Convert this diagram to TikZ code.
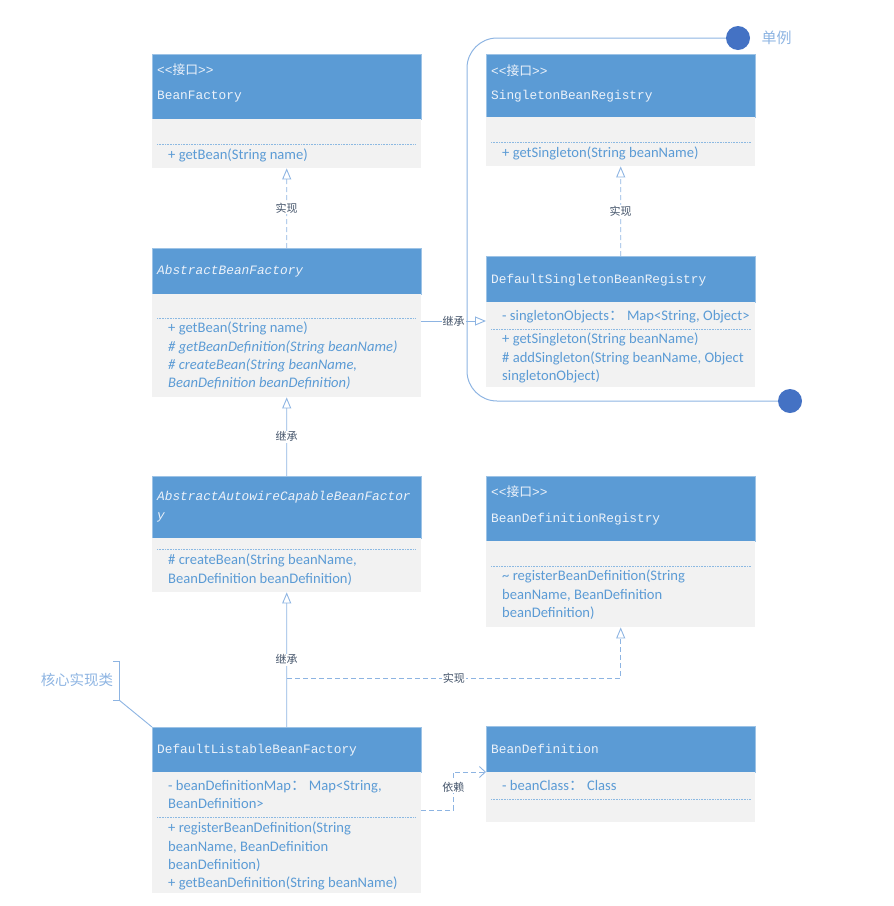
\documentclass[tikz,border=0pt]{standalone}
\usepackage{fontspec}
\setmainfont{Carlito}
\newfontfamily\hdfont{Liberation Mono}
\newfontfamily\cjk{Noto Sans CJK SC}
\usetikzlibrary{arrows.meta}
\definecolor{headblue}{RGB}{91,155,213}
\definecolor{bodygray}{RGB}{242,242,242}
\definecolor{headtext}{RGB}{236,242,250}
\definecolor{memblue}{RGB}{91,155,213}
\definecolor{linecol}{RGB}{141,180,226}
\definecolor{lblgray}{RGB}{68,84,106}
\definecolor{dotblue}{RGB}{68,114,196}
\begin{document}
\begin{tikzpicture}[x=1pt,y=-1pt,
    head/.style={anchor=north west,fill=headblue,draw=headblue!60!white,line width=0.5pt,minimum width=269pt,inner sep=0pt},
    body/.style={anchor=north west,fill=bodygray,minimum width=269pt,inner sep=0pt},
    hdtext/.style={anchor=west,text=headtext,font=\hdfont\fontsize{12.8}{15}\selectfont,inner sep=0pt},
    mem/.style={anchor=north west,align=left,text=memblue,font=\fontsize{14.6}{18.3}\selectfont,inner sep=0pt},
    divline/.style={memblue!70,densely dotted,line width=0.6pt},
    lbl/.style={fill=white,text=lblgray,font=\cjk\fontsize{11}{12}\selectfont,inner sep=1pt},
    impl/.style={linecol,line width=0.9pt,dash pattern=on 5pt off 3pt,-{Triangle[open,length=11pt,width=9pt]}},
    inh/.style={linecol,line width=0.9pt,-{Triangle[open,length=11pt,width=9pt]}},
    dep/.style={linecol,line width=0.9pt,dash pattern=on 5pt off 3pt,-{Straight Barb[length=6pt,width=11pt]}}]
    \useasboundingbox (0,0) rectangle (894,906);
    % left column
    \node[head,minimum height=65pt] (bf) at (152,54) {};
    \node[body,minimum height=49pt] (bfb) at (152,119) {};
    \node[hdtext] (bft1) at (157,70) {<<{\cjk 接口}>>};
    \node[hdtext] (bft2) at (157,97) {BeanFactory};
    \draw[divline] (157,144) -- (416,144);
    \node[mem] (bfm) at (168,149) {+ getBean(String name)};

    \node[head,minimum height=46pt] (abf) at (152,248) {};
    \node[body,minimum height=103pt] (abfb) at (152,294) {};
    \node[hdtext] (abft) at (157,271) {\itshape AbstractBeanFactory};
    \draw[divline] (157,318) -- (416,318);
    \node[mem] (abfm) at (168,322) {+ getBean(String name)\\
        \textit{\# getBeanDefinition(String beanName)}\\
        \textit{\# createBean(String beanName,}\\
        \textit{BeanDefinition beanDefinition)}};

    \node[head,minimum height=62pt] (aacbf) at (152,476) {};
    \node[body,minimum height=54pt] (aacbfb) at (152,538) {};
    \node[hdtext] (aacbft1) at (157,497) {\itshape AbstractAutowireCapableBeanFactor};
    \node[hdtext] (aacbft2) at (157,517) {\itshape y};
    \draw[divline] (157,549) -- (416,549);
    \node[mem] (aacbfm) at (168,554) {\# createBean(String beanName,\\ BeanDefinition beanDefinition)};

    \node[head,minimum height=45pt] (dlbf) at (152,727) {};
    \node[body,minimum height=121pt] (dlbfb) at (152,772) {};
    \node[hdtext] (dlbft) at (157,750) {DefaultListableBeanFactory};
    \node[mem] (dlbfa) at (168,780) {- beanDefinitionMap{\cjk ：}\ Map<String,\\ BeanDefinition>};
    \draw[divline] (157,817) -- (416,817);
    \node[mem] (dlbfm) at (168,822) {+ registerBeanDefinition(String\\ beanName, BeanDefinition\\
        beanDefinition)\\ + getBeanDefinition(String beanName)};

    % right column
    \node[head,minimum height=63pt] (sbr) at (486,54) {};
    \node[body,minimum height=49pt] (sbrb) at (486,117) {};
    \node[hdtext] (sbrt1) at (491,71) {<<{\cjk 接口}>>};
    \node[hdtext] (sbrt2) at (491,96) {SingletonBeanRegistry};
    \draw[divline] (491,142) -- (751,142);
    \node[mem] (sbrm) at (502,147) {+ getSingleton(String beanName)};

    \node[head,minimum height=46pt] (dsbr) at (486,256) {};
    \node[body,minimum height=85pt] (dsbrb) at (486,302) {};
    \node[hdtext] (dsbrt) at (491,280) {DefaultSingletonBeanRegistry};
    \node[mem] (dsbra) at (502,310) {- singletonObjects{\cjk ：}\ Map<String, Object>};
    \draw[divline] (491,329) -- (751,329);
    \node[mem] (dsbrm) at (502,333) {+ getSingleton(String beanName)\\
        \# addSingleton(String beanName, Object\\ singletonObject)};

    \node[head,minimum height=65pt] (bdr) at (486,476) {};
    \node[body,minimum height=86pt] (bdrb) at (486,541) {};
    \node[hdtext] (bdrt1) at (491,492) {<<{\cjk 接口}>>};
    \node[hdtext] (bdrt2) at (491,519) {BeanDefinitionRegistry};
    \draw[divline] (491,566) -- (751,566);
    \node[mem] (bdrm) at (502,570) {\textasciitilde\ registerBeanDefinition(String\\
        beanName, BeanDefinition\\ beanDefinition)};

    \node[head,minimum height=46pt] (bd) at (486,726) {};
    \node[body,minimum height=50pt] (bdb) at (486,772) {};
    \node[hdtext] (bdt) at (491,749) {BeanDefinition};
    \node[mem] (bda) at (502,780) {- beanClass{\cjk ：}\ Class};
    \draw[divline] (491,799) -- (751,799);

    % relations
    \draw[impl] (abf.north) -- node[lbl] (l1) {实现} (bfb.south);
    \draw[inh] (aacbf.north) -- node[lbl] (l2) {继承} (abfb.south);
    \draw[inh] (dlbf.north) -- node[lbl] (l3) {继承} (aacbfb.south);
    \draw[impl] (dsbr.north) -- node[lbl] (l4) {实现} (sbrb.south);
    \coordinate (abfr) at ([yshift=-27pt]abfb.north east);
    \draw[inh] (abfr) -- node[lbl] (l5) {继承} (abfr -| dsbrb.west);
    \coordinate (split) at (287,678);
    \draw[impl] (split) -| node[lbl,pos=0.25] (l6) {实现} (bdrb.south);
    \coordinate (dlr) at ([yshift=-38pt]dlbfb.north east);
    \draw[dep] (dlr) -- ++(32,0) |- node[lbl,pos=0.3] (l7) {依赖} (bdb.north west);

    % singleton frame
    \node[circle,fill=dotblue,minimum size=24pt,inner sep=0pt] (s1) at (738,38) {};
    \node[circle,fill=dotblue,minimum size=24pt,inner sep=0pt] (s2) at (790,401) {};
    \draw[linecol,line width=1pt,rounded corners=30pt] (s1.west) -- (467,38) -- (467,401) -- (s2.west);
    \node[anchor=west,text=linecol,font=\cjk\fontsize{15}{16}\selectfont] (single) at (758,38) {单例};

    % note
    \node[text=linecol,font=\cjk\fontsize{14.5}{16}\selectfont] (core) at (77,680) {核心实现类};
    \draw[linecol,line width=0.9pt] (113,661) -- (119,661) -- (119,700) -- (113,700);
    \coordinate (brk) at (119,700);
    \draw[linecol,line width=0.9pt] (brk) -- (dlbf.north west);
\end{tikzpicture}
\end{document}
